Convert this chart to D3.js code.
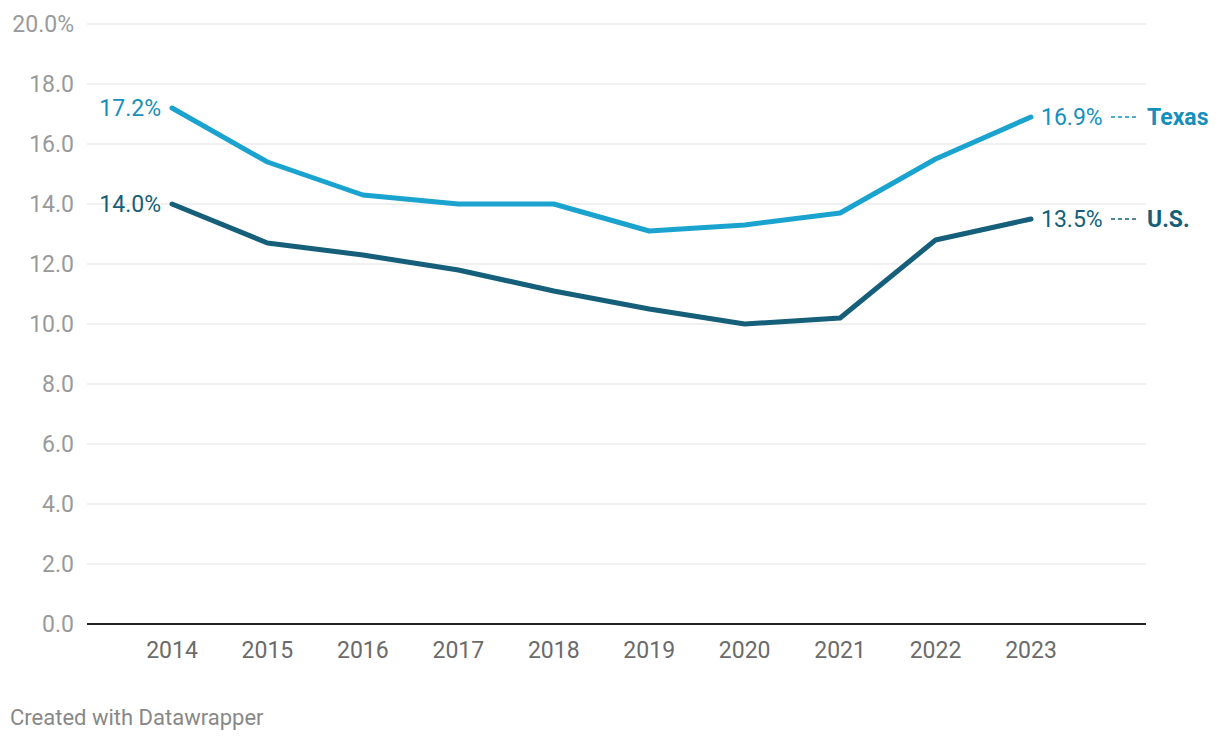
<!DOCTYPE html>
<html>
<head>
<meta charset="utf-8">
<script src="https://cdn.jsdelivr.net/npm/d3@7"></script>
<style>
  body { margin: 0; background: #fff; font-family: Roboto, "Noto Sans", sans-serif; }
</style>
</head>
<body>
<div class="chart"></div>
<script>
// data
const years = [2014, 2015, 2016, 2017, 2018, 2019, 2020, 2021, 2022, 2023];
const texas = [17.2, 15.4, 14.3, 14.0, 14.0, 13.1, 13.3, 13.7, 15.5, 16.9];
const us = [14.0, 12.7, 12.3, 11.8, 11.1, 10.5, 10.0, 10.2, 12.8, 13.5];
const yTicks = [0, 2, 4, 6, 8, 10, 12, 14, 16, 18, 20];

const width = 1220, height = 740;

const svg = d3.select('.chart')
    .append('svg')
    .attr('width', width)
    .attr('height', height);

// scales
const xScale = d3.scaleLinear().domain([2014, 2023]).range([172, 1031]);
const yScale = d3.scaleLinear().domain([0, 20]).range([624, 24]);
const left = 87, right = 1146;

// grid + y labels
svg.append('g').selectAll('line')
    .data(yTicks.filter(d => d > 0))
    .join('line')
    .attr('x1', left).attr('x2', right)
    .attr('y1', d => yScale(d)).attr('y2', d => yScale(d))
    .attr('stroke', '#e3e3e3')
    .attr('stroke-width', 1);

svg.append('g').selectAll('text')
    .data(yTicks)
    .join('text')
    .attr('x', 74)
    .attr('y', d => yScale(d))
    .attr('dy', '0.35em')
    .attr('text-anchor', 'end')
    .attr('font-size', 23)
    .attr('fill', '#9a9a9a')
    .text(d => d === 20 ? d.toFixed(1) + '%' : d.toFixed(1));

// baseline
svg.append('line')
    .attr('x1', left).attr('x2', right)
    .attr('y1', yScale(0)).attr('y2', yScale(0))
    .attr('stroke', '#222')
    .attr('stroke-width', 2);

// x axis labels
svg.append('g').selectAll('text')
    .data(years)
    .join('text')
    .attr('x', d => xScale(d))
    .attr('y', 650)
    .attr('dy', '0.35em')
    .attr('text-anchor', 'middle')
    .attr('font-size', 23)
    .attr('fill', '#6b6b6b')
    .text(d => d);

// lines
const series = [
    {name: 'Texas', values: texas, color: '#1ba3cf', label: '#168fbb'},
    {name: 'U.S.', values: us, color: '#155f7a', label: '#155f7a'}
];

const line = d3.line()
    .x((d, i) => xScale(years[i]))
    .y(d => yScale(d));

series.forEach(s => {
    svg.append('path')
        .datum(s.values)
        .attr('fill', 'none')
        .attr('stroke', s.color)
        .attr('stroke-width', 5)
        .attr('stroke-linejoin', 'round')
        .attr('stroke-linecap', 'round')
        .attr('d', line);

    const first = s.values[0], last = s.values[s.values.length - 1];

    // start value
    svg.append('text')
        .attr('x', xScale(years[0]) - 11)
        .attr('y', yScale(first))
        .attr('dy', '0.35em')
        .attr('text-anchor', 'end')
        .attr('font-size', 23)
        .attr('fill', s.label)
        .text(first.toFixed(1) + '%');

    // end value
    const ex = xScale(years[years.length - 1]) + 10, ey = yScale(last);
    svg.append('text')
        .attr('x', ex)
        .attr('y', ey)
        .attr('dy', '0.35em')
        .attr('font-size', 23)
        .attr('fill', s.label)
        .text(last.toFixed(1) + '%');

    svg.append('line')
        .attr('x1', ex + 70).attr('x2', ex + 98)
        .attr('y1', ey).attr('y2', ey)
        .attr('stroke', s.label)
        .attr('stroke-width', 1.5)
        .attr('stroke-dasharray', '4,3');

    svg.append('text')
        .attr('x', ex + 106)
        .attr('y', ey)
        .attr('dy', '0.35em')
        .attr('font-size', 23)
        .attr('font-weight', 'bold')
        .attr('fill', s.label)
        .text(s.name);
});

// footer
svg.append('text')
    .attr('x', 10)
    .attr('y', 717)
    .attr('dy', '0.35em')
    .attr('font-size', 22)
    .attr('fill', '#888')
    .text('Created with Datawrapper');
</script>
</body>
</html>
